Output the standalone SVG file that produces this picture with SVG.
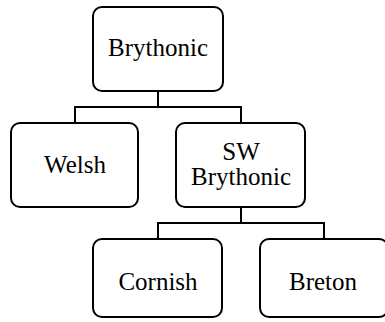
<svg xmlns="http://www.w3.org/2000/svg" width="385" height="322" viewBox="0 0 385 322">
<style>
.box{fill:#fff;stroke:#000;stroke-width:2}
.con{fill:none;stroke:#000;stroke-width:2}
text{font-family:"Liberation Serif","Times New Roman",serif;font-size:25px;fill:#000;text-anchor:middle}
</style>
<rect width="385" height="322" fill="#fff"/>
<g id="connectors">
<path class="con" d="M158 91V107M75 123V107H241V123"/>
<path class="con" d="M241 207V223M158 239V223H324V239"/>
</g>
<g id="brythonic">
<rect class="box" x="93" y="7" width="130" height="84" rx="9"/>
<text x="158" y="56">Brythonic</text>
</g>
<g id="welsh">
<rect class="box" x="11" y="123" width="127" height="84" rx="9"/>
<text x="75" y="173">Welsh</text>
</g>
<g id="sw-brythonic">
<rect class="box" x="176" y="123" width="129" height="84" rx="9"/>
<text x="241" y="160">SW</text>
<text x="241" y="185">Brythonic</text>
</g>
<g id="cornish">
<rect class="box" x="93" y="239" width="129" height="78" rx="9"/>
<text x="158" y="290">Cornish</text>
</g>
<g id="breton">
<rect class="box" x="260" y="239" width="128" height="78" rx="9"/>
<text x="323" y="290">Breton</text>
</g>
</svg>
